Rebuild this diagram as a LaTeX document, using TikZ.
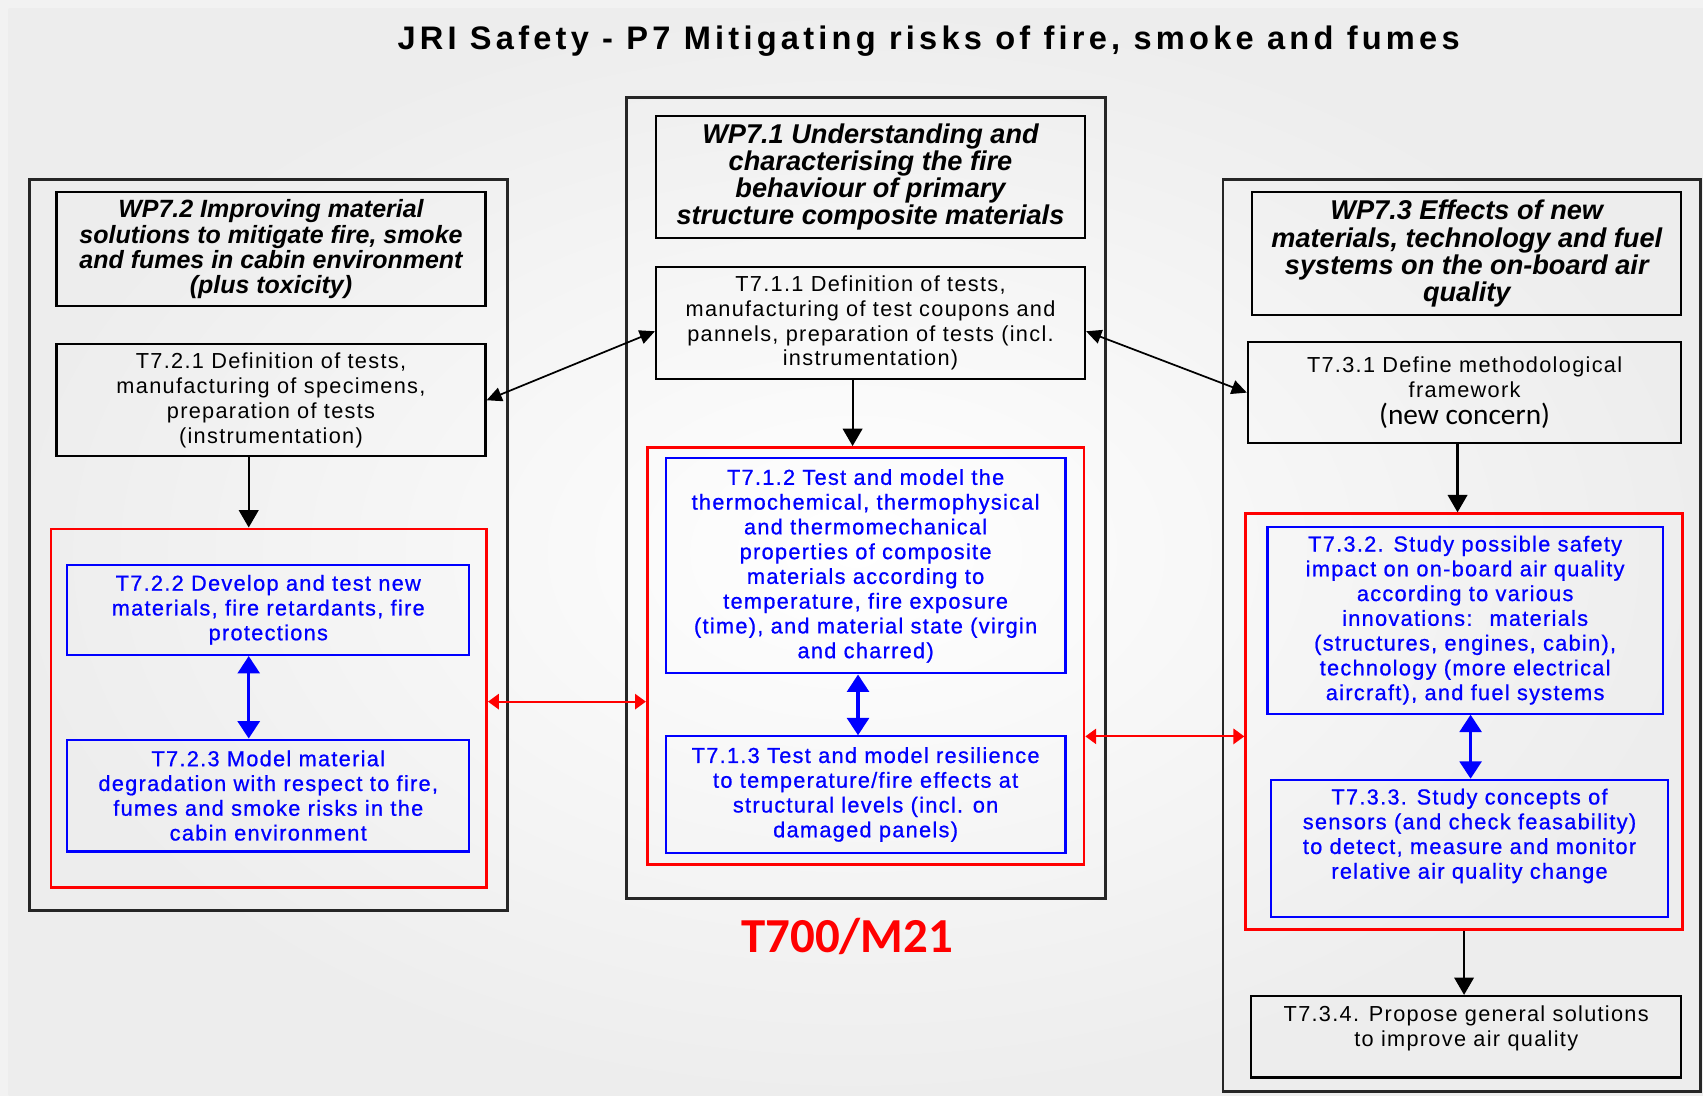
\documentclass[tikz,border=0pt]{standalone}
\usepackage{fontspec}
\setmainfont{Liberation Sans}
\newfontfamily\tfont[LetterSpace=6]{Liberation Sans}
\newfontfamily\bfont[LetterSpace=6,FakeBold=0.8]{Liberation Sans}
\newfontfamily\wpfont{Liberation Sans}
\newfontfamily\titlefont[LetterSpace=13]{Liberation Sans}
\newfontfamily\calfont{Carlito}
\usetikzlibrary{arrows.meta,fit}
\definecolor{bgedge}{gray}{0.93}
\definecolor{bgband}{gray}{0.95}
\tikzset{
  box/.style={draw=black, line width=1pt, inner sep=0pt, align=center},
  wpbox/.style={box, font=\wpfont\bfseries\itshape\fontsize{12.5}{12.5}\selectfont},
  tbox/.style={box, font=\tfont\fontsize{10}{11.4}\selectfont},
  bbox/.style={box, draw=blue, text=blue, font=\bfont\fontsize{10}{11.4}\selectfont},
  outerbox/.style={draw=black!85, line width=1.3pt, inner sep=0pt},
  grpbox/.style={draw=red, line width=1.3pt, inner sep=0pt},
  arr/.style={-{Triangle[length=8pt,width=9pt]}, line width=1pt},
  darr/.style={{Triangle[length=7pt,width=6.5pt]}-{Triangle[length=7pt,width=6.5pt]}, line width=0.8pt},
  barr/.style={{Triangle[length=8pt,width=10pt]}-{Triangle[length=8pt,width=10pt]}, blue, line width=1.6pt},
  rarr/.style={{Triangle[length=5pt,width=7pt]}-{Triangle[length=5pt,width=7pt]}, red, line width=1pt}
}
\begin{document}
\begin{tikzpicture}[x=0.5pt,y=-0.5pt]
\useasboundingbox (0,0) rectangle (1568,1009);
\fill[bgband] (0,0) rectangle (1568,1009);
\shade[inner color=white, outer color=bgedge] (8,8) rectangle (1568,1009);

\node[font=\titlefont\bfseries\fontsize{15}{16}\selectfont] (title) at (855,38)
  {JRI Safety - P7 Mitigating risks of fire, smoke and fumes};

% outer boxes
\node[outerbox, fit={(27,165) (467,838)}] (outerL) {};
\node[outerbox, fit={(577,90) (1018,827)}] (outerC) {};
\node[outerbox, fit={(1126,165) (1566,1005)}] (outerR) {};

% left column
\node[wpbox, font=\wpfont\bfseries\itshape\fontsize{11.5}{11.6}\selectfont,
      minimum width=197.5pt, minimum height=52.5pt] (wp72) at (249.5,229.5)
  {WP7.2 Improving material\\solutions to mitigate fire, smoke\\and fumes in cabin environment\\(plus toxicity)};
\node[tbox, minimum width=197.5pt, minimum height=51.5pt] (t721) at (249.5,368.5)
  {T7.2.1 Definition of tests,\\manufacturing of specimens,\\preparation of tests\\(instrumentation)};
\node[grpbox, fit={(47,487) (448,817)}] (redL) {};
\node[bbox, minimum width=185pt, minimum height=41.5pt] (t722) at (247,561.5)
  {T7.2.2 Develop and test new\\materials, fire retardants, fire\\protections};
\node[bbox, minimum width=185pt, minimum height=51.5pt] (t723) at (247,732.5)
  {T7.2.3 Model material\\degradation with respect to fire,\\fumes and smoke risks in the\\cabin environment};

% centre column
\node[wpbox, minimum width=197.5pt, minimum height=56pt] (wp71) at (801.5,163)
  {WP7.1 Understanding and\\characterising the fire\\behaviour of primary\\structure composite materials};
\node[tbox, minimum width=197.5pt, minimum height=51.5pt] (t711) at (801.5,297.5)
  {T7.1.1 Definition of tests,\\manufacturing of test coupons and\\pannels, preparation of tests (incl.\\instrumentation)};
\node[grpbox, fit={(596,412) (998,796)}] (redC) {};
\node[bbox, minimum width=184pt, minimum height=99pt] (t712) at (797,521)
  {T7.1.2 Test and model the\\thermochemical, thermophysical\\and thermomechanical\\properties of composite\\materials according to\\temperature, fire exposure\\(time), and material state (virgin\\and charred)};
\node[bbox, minimum width=184pt, minimum height=53.5pt] (t713) at (797,731.5)
  {T7.1.3 Test and model resilience\\to temperature/fire effects at\\structural levels (incl. on\\damaged panels)};

% right column
\node[wpbox, minimum width=197.5pt, minimum height=56.5pt] (wp73) at (1350.5,233.5)
  {WP7.3 Effects of new\\materials, technology and fuel\\systems on the on-board air\\quality};
\node[tbox, minimum width=199.5pt, minimum height=46.5pt] (t731) at (1348.5,361.5)
  {T7.3.1 Define methodological\\framework\\[1pt]{\calfont\fontsize{13.5}{14}\selectfont (new concern)}};
\node[grpbox, fit={(1147,473) (1549,856)}] (redR) {};
\node[bbox, minimum width=182pt, minimum height=86pt] (t732) at (1349,571)
  {T7.3.2. Study possible safety\\impact on on-board air quality\\according to various\\innovations:~ materials\\(structures, engines, cabin),\\technology (more electrical\\aircraft), and fuel systems};
\node[bbox, minimum width=183pt, minimum height=63pt] (t733) at (1353,781)
  {T7.3.3. Study concepts of\\sensors (and check feasability)\\to detect, measure and monitor\\relative air quality change\\[2pt]\mbox{}};
\node[tbox, minimum width=198pt, minimum height=37.5pt] (t734) at (1350,954.5)
  {T7.3.4. Propose general solutions\\to improve air quality\\[-2pt]\mbox{}};

\node[text=red, font=\calfont\bfseries\fontsize{22.5}{24}\selectfont] (ms) at (780,862) {T700/M21};

% connectors
\draw[arr] (t721.south -| 229,0) -- (redL.north -| 229,0);
\draw[barr] (t722.south -| 229,0) -- (t723.north -| 229,0);
\draw[arr] (t711.south -| 785,0) -- (redC.north -| 785,0);
\draw[barr] (t712.south -| 790,0) -- (t713.north -| 790,0);
\draw[arr] (t731.south -| 1342,0) -- (redR.north -| 1342,0);
\draw[barr] (t732.south -| 1354,0) -- (t733.north -| 1354,0);
\draw[arr] (redR.south -| 1348,0) -- (t734.north -| 1348,0);
\draw[darr] (t721.east) -- (t711.west |- 0,305);
\draw[darr] (t711.east |- 0,305) -- (t731.west);
\draw[rarr] (redL.east |- 0,646) -- (redC.west |- 0,646);
\draw[rarr] (redC.east |- 0,678) -- (redR.west |- 0,678);
\end{tikzpicture}
\end{document}
